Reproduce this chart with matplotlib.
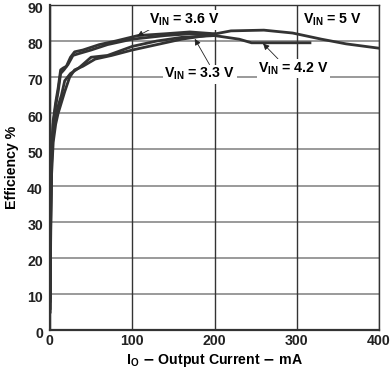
import matplotlib
matplotlib.use("Agg")
import matplotlib.pyplot as plt
import matplotlib.transforms as mtransforms

plt.rcParams['font.family'] = ['Liberation Sans', 'DejaVu Sans']
plt.rcParams['font.weight'] = 'bold'

# Data
i_33 = [0.3, 1, 2, 4, 7, 10, 14, 18, 25, 35, 50, 70, 100, 130, 160, 200]
e_33 = [6, 30, 46, 55, 59, 62, 65, 69, 71, 72.5, 75.5, 76, 78.5, 80, 81, 81.5]

i_36 = [0.3, 1, 2, 4, 7, 10, 13, 16, 20, 25, 30, 40, 60, 80, 107, 140, 170, 200]
e_36 = [9, 36, 50, 58, 63, 67, 72, 72.5, 73, 75.5, 77, 77.5, 79, 80, 81.5, 82, 82.5, 82]

i_42 = [0.3, 1, 2, 4, 7, 10, 13, 17, 22, 28, 35, 50, 70, 100, 140, 170, 200, 230, 245, 280, 316]
e_42 = [8, 34, 48, 57, 62, 66, 71, 72, 73.5, 76, 76.5, 77.5, 79, 80.5, 81.5, 82, 81.5, 80.5, 79.5, 79.5, 79.5]

i_50 = [0.3, 1, 2, 4, 7, 10, 14, 18, 24, 30, 40, 55, 75, 100, 130, 160, 190, 220, 260, 295, 330, 360, 400]
e_50 = [5, 28, 43, 52, 57, 60, 63, 66, 70, 72, 73, 75, 76, 77.5, 79, 80.5, 81.5, 82.8, 83, 82.2, 80.5, 79.2, 78]

xticks = [0, 100, 200, 300, 400]
yticks = [0, 10, 20, 30, 40, 50, 60, 70, 80, 90]

FS = 10.2

fig = plt.figure(figsize=(3.9, 3.73), dpi=100)
ax = fig.add_axes([0.128, 0.115, 0.844, 0.872])

ax.set_xlim(0, 400)
ax.set_ylim(0, 90)
ax.set_xticks(xticks)
ax.set_yticks(yticks)
ax.tick_params(axis='y', length=0, labelsize=FS, pad=5)
ax.tick_params(axis='x', length=0, labelsize=FS, pad=3)
for lab in ax.get_xticklabels() + ax.get_yticklabels():
    lab.set_fontweight('bold')
    lab.set_color('#222222')
off = mtransforms.ScaledTranslation(0, -2/72, fig.dpi_scale_trans)
for lab in ax.get_yticklabels():
    lab.set_transform(lab.get_transform() + off)

for y in yticks:
    ax.axhline(y, color='#9a9a9a', lw=1.4, zorder=1)
for x in xticks:
    ax.axvline(x, color='#333333', lw=1.0, zorder=1)
for s in ax.spines.values():
    s.set_color('#333333')
    s.set_linewidth(1.0)
ax.spines['left'].set_linewidth(1.6)
ax.spines['bottom'].set_linewidth(1.6)

lc = '#333333'
for xs, ys in [(i_33, e_33), (i_36, e_36), (i_42, e_42), (i_50, e_50)]:
    ax.plot(xs, ys, color=lc, lw=2.0, zorder=3, solid_joinstyle='round')

ax.set_xlabel(r'I$_\mathregular{O}$ $-$ Output Current $-$ mA', fontsize=FS, fontweight='bold')
ax.xaxis.set_label_coords(0.5, -0.066)
ax.set_ylabel('Efficiency %', fontsize=FS, fontweight='bold', labelpad=6)

bbox = dict(boxstyle='square,pad=0.1', fc='white', ec='none')
arrow = dict(arrowstyle='-|>', color='#222222', lw=0.6, mutation_scale=9, shrinkA=0, shrinkB=0)

ax.annotate(r'V$_\mathregular{IN}$ = 3.6 V', xy=(106, 81.3), xytext=(163, 85.8),
            fontsize=FS, fontweight='bold', ha='center', va='center', bbox=bbox,
            arrowprops=dict(arrow, relpos=(0.05, 0.0)), zorder=5)
ax.annotate(r'V$_\mathregular{IN}$ = 3.3 V', xy=(176, 80.6), xytext=(182, 70.8),
            fontsize=FS, fontweight='bold', ha='center', va='center', bbox=bbox,
            arrowprops=dict(arrow, relpos=(0.65, 1.0)), zorder=5)
ax.annotate(r'V$_\mathregular{IN}$ = 4.2 V', xy=(259, 79.3), xytext=(296, 72.4),
            fontsize=FS, fontweight='bold', ha='center', va='center', bbox=bbox,
            arrowprops=dict(arrow, relpos=(0.3, 1.0)), zorder=5)
ax.text(343, 85.8, r'V$_\mathregular{IN}$ = 5 V', fontsize=FS, fontweight='bold',
        ha='center', va='center', bbox=bbox, zorder=5)

fig.savefig('out.png', dpi=100)
